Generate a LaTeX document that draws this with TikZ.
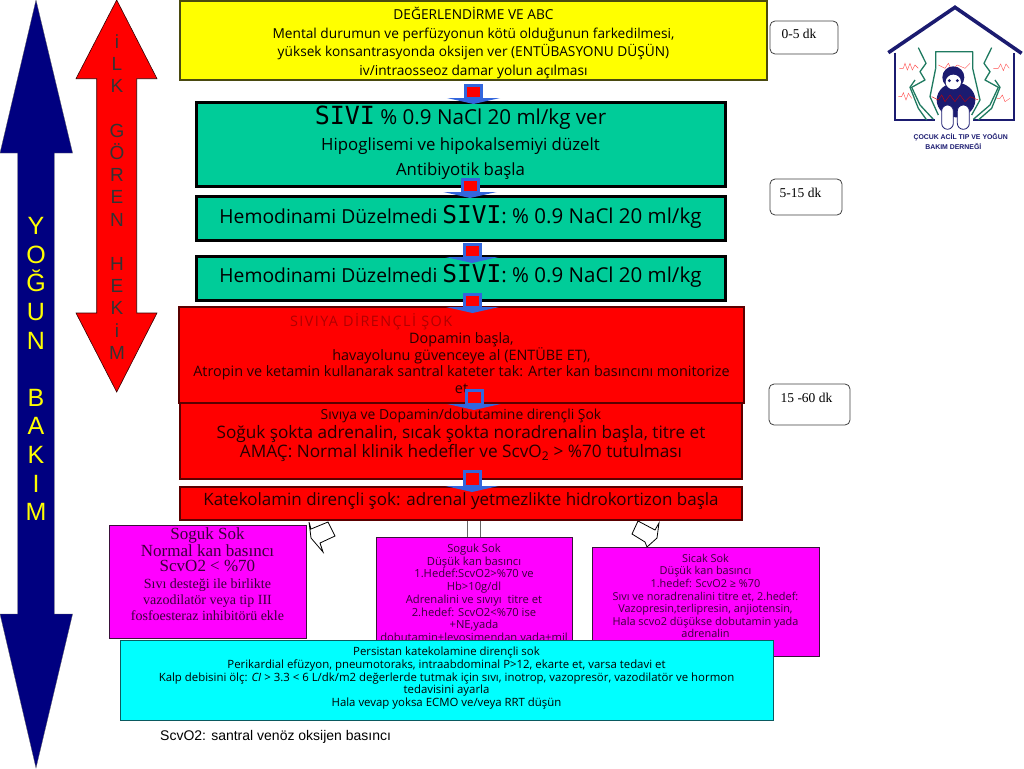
\documentclass[tikz,border=0pt]{standalone}
\usepackage{fontspec}
\setmainfont{Open Sans}
\newfontfamily\timesf{Liberation Serif}
\newfontfamily\arialf{Liberation Sans}
\newfontfamily\sivif{DejaVu Sans Mono}
\usetikzlibrary{arrows.meta}
\definecolor{navyfill}{RGB}{0,0,128}
\definecolor{tealbox}{RGB}{0,204,153}
\definecolor{pureyellow}{RGB}{255,255,0}
\definecolor{purered}{RGB}{255,0,0}
\definecolor{puremag}{RGB}{255,0,255}
\definecolor{purecyan}{RGB}{0,255,255}
\definecolor{olive}{HTML}{4A4A10}
\definecolor{darkred}{HTML}{5A0000}
\definecolor{sivred}{HTML}{B00000}
\definecolor{magtext}{HTML}{3A003A}
\definecolor{arrowblue}{HTML}{3366DD}
\definecolor{logonavy}{HTML}{1B1B70}
\definecolor{logogreen}{HTML}{1F7A60}
\definecolor{edgecyan}{HTML}{0A5A60}
\definecolor{edgemag}{HTML}{3A103A}
\newcommand{\fs}[2]{\fontsize{#1pt}{#2pt}\selectfont}
\newcommand{\flowbox}[8]{%
  \pgfmathsetlengthmacro\bw{(#5-#3)*1pt}%
  \pgfmathsetlengthmacro\bh{(#6-#4)*1pt}%
  \node[#2,anchor=north west,inner sep=0pt,outer sep=0pt] (#1) at (#3,#4)
   {\begin{minipage}[c][\bh][t]{\bw}\centering\vspace*{#7pt}#8\end{minipage}};}
\newcommand{\flow}[6]{%
  \draw[blueshaft] ([xshift=#2pt,yshift=#3pt]#1.south) -- ([xshift=#5pt,yshift=#6pt]#4.north);
  \draw[redcore] ([xshift=#2pt,yshift=#3pt]#1.south) -- ([xshift=#5pt,yshift=#6pt]#4.north);}
\newcommand{\sivitext}{{\sivif\fs{24.5}{24}SIVI}}
\tikzset{
  yellowbox/.style={fill=pureyellow,draw=olive,line width=2.2pt},
  greenbox/.style={fill=tealbox,draw=black,line width=3pt},
  redbox/.style={fill=purered,draw=darkred,line width=1.8pt,text=black!85!red},
  magbox/.style={fill=puremag,draw=edgemag,line width=1pt,text=magtext},
  cyanbox/.style={fill=purecyan,draw=edgecyan,line width=1pt,text=black},
  timebox/.style={fill=white,draw=black!75,line width=.8pt,rounded corners=5pt},
  blueshaft/.style={draw=arrowblue,line width=19pt,-{Triangle[width=53pt,length=6pt]}},
  redcore/.style={draw=purered,line width=13pt,shorten <=3pt,shorten >=7pt},
  hollow/.style={fill=white,draw=black,line width=.8pt,line join=miter},
  logoline/.style={draw=logogreen,line width=1.3pt,line join=round},
  ecg/.style={draw=purered!70!white,line width=.4pt},
}
\begin{document}
\begin{tikzpicture}[x=1pt,y=-1pt]
\useasboundingbox (0,0) rectangle (1024,768);

% side arrows
\path[fill=navyfill,draw=black!60,line width=.3pt] (36,0)--(72.6,153)--(54.3,153)--(54.3,614)--(72.6,614)--(36,768)--(0,614)--(17.7,614)--(17.7,153)--(0,153)--cycle;
\node[text=pureyellow,align=center,inner sep=0pt,font=\arialf\fs{25}{28.6}] (yogun) at (36,369) {Y\\O\\Ğ\\U\\N\\[28.6pt]B\\A\\K\\I\\M};
\path[fill=purered,draw=black!80!red,line width=.6pt] (116.7,0)--(157,78.7)--(136.7,78.7)--(136.7,313)--(157,313)--(116.7,392)--(76,313)--(96.7,313)--(96.7,78.7)--(76,78.7)--cycle;
\node[text=black!80,align=center,inner sep=0pt,font=\arialf\fs{19}{22.2}] (ilk) at (117,197) {i\\L\\K\\[22.2pt]G\\Ö\\R\\E\\N\\[22.2pt]H\\E\\K\\i\\M};

% hollow block arrows
\path[hollow] (311,529)--(328,522)--(335,536)--(320,543)--(323,552)--(311,538)--(309,522)--cycle;
\path[hollow] (638,521)--(655,530)--(659,523)--(657,538)--(647,547)--(645,542)--(632,534)--cycle;

% magenta boxes
\flowbox{sogukn}{magbox}{109}{525}{306}{638}{3}{\timesf\fs{17}{15}Soguk Sok\\Normal kan basıncı\\ScvO2 < \%70\\[1pt]\fs{14}{16}Sıvı desteği ile birlikte\\vazodilatör veya tip III\\fosfoesteraz inhibitörü ekle}
\flowbox{sogukd}{magbox}{376}{537}{572}{660}{7}{\fs{11.2}{12.7}Soguk Sok\\Düşük kan basıncı\\1.Hedef:ScvO2>\%70 ve\\Hb>10g/dl\\Adrenalini ve sıvıyı~ titre et\\2.hedef: ScvO2<\%70 ise\\+NE,yada\\dobutamin+levosimendan yada+mil}
\flowbox{sicak}{magbox}{592}{547}{819}{656}{7}{\fs{10.9}{12.6}Sicak Sok\\Düşük kan basıncı\\1.hedef: ScvO2 ≥ \%70\\Sıvı ve noradrenalini titre et, 2.hedef:\\Vazopresin,terlipresin, anjiotensin,\\Hala scvo2 düşükse dobutamin yada\\adrenalin}
\flowbox{persist}{cyanbox}{120}{640}{773}{720}{7}{\fs{11.4}{12.7}Persistan katekolamine dirençli sok\\Perikardial efüzyon, pneumotoraks, intraabdominal P>12, ekarte et, varsa tedavi et\\Kalp debisini ölç: \textit{CI} > 3.3 < 6 L/dk/m2 değerlerde tutmak için sıvı, inotrop, vazopresör, vazodilatör ve hormon\\tedavisini ayarla\\Hala vevap yoksa ECMO ve/veya RRT düşün}

% main flow boxes
\flowbox{deger}{yellowbox}{180}{1}{767}{80}{6}{\fs{13.7}{18.8}DEĞERLENDİRME VE ABC\\Mental durumun ve perfüzyonun kötü olduğunun farkedilmesi,\\yüksek konsantrasyonda oksijen ver (ENTÜBASYONU DÜŞÜN)\\iv/intraosseoz damar yolun açılması}
\flowbox{sivi}{greenbox}{196}{102}{725}{186}{4}{\fs{20.6}{27}{\sivif\fs{25}{27}SIVI} \% 0.9 NaCl 20 ml/kg ver\\\fs{16.8}{25.5}Hipoglisemi ve hipokalsemiyi düzelt\\Antibiyotik başla}
\flowbox{hemoa}{greenbox}{196}{196}{725}{240}{9}{\fs{19.3}{24}Hemodinami Düzelmedi \sivitext\fs{20.5}{24}: \% 0.9 NaCl 20 ml/kg}
\flowbox{hemob}{greenbox}{196}{256}{725}{300}{8}{\fs{19.3}{24}Hemodinami Düzelmedi \sivitext\fs{20.5}{24}: \% 0.9 NaCl 20 ml/kg}
\flowbox{direncli}{redbox}{179}{307}{744}{403}{7}{\fs{14.4}{16.3}\makebox[\linewidth][l]{\hspace*{111pt}\textcolor{sivred}{\addfontfeature{LetterSpace=10}SIVIYA DİRENÇLİ ŞOK}}\\Dopamin başla,\\havayolunu güvenceye al (ENTÜBE ET),\\Atropin ve ketamin kullanarak santral kateter tak: Arter kan basıncını monitorize\\et}
\flowbox{dopamin}{redbox}{180}{403}{742}{479}{6}{\fs{13.9}{17}Sıvıya ve Dopamin/dobutamine dirençli Şok\\\fs{17.2}{19}Soğuk şokta adrenalin, sıcak şokta noradrenalin başla, titre et\\AMAÇ: Normal klinik hedefler ve ScvO\textsubscript{2} > \%70 tutulması}
\flowbox{kateko}{redbox}{180}{487}{742}{520}{6}{\fs{17}{20}Katekolamin dirençli şok: adrenal yetmezlikte hidrokortizon başla}

\draw[draw=black!60,line width=14.5pt] (sogukd.north |- kateko.south) -- (sogukd.north);
\draw[draw=white,line width=12.5pt] (sogukd.north |- kateko.south) -- (sogukd.north);
\path[draw=darkred,line width=1.8pt] (kateko.south west) -- (kateko.south east);
\path[draw=edgemag,line width=1pt] (sogukd.north west) -- (sogukd.north east);

% connectors
\flow{deger}{0}{-4}{sivi}{13}{-2}
\flow{sivi}{9.5}{8}{hemoa}{9.5}{-2}
\flow{hemoa}{11.5}{-3}{hemob}{11.5}{-7}
\flow{hemob}{12}{7}{direncli}{11}{-6}
\flow{direncli}{12.5}{14}{dopamin}{13}{-7}
\flow{dopamin}{11}{9}{kateko}{11}{-5}

% time boxes
\flowbox{tzero}{timebox}{770}{21}{838}{54}{8}{\timesf\fs{13.5}{14}\hspace*{-10pt}0-5 dk}
\flowbox{tfive}{timebox}{770}{179}{842}{215}{9}{\timesf\fs{13.5}{14}\hspace*{-11pt}5-15 dk}
\flowbox{tfifteen}{timebox}{769}{384}{850}{425}{9}{\timesf\fs{13.5}{14}\hspace*{-6pt}15 -60 dk}

% footnote
\node[anchor=west,inner sep=0pt] (foot) at (160,737) {\arialf\fs{14}{15}ScvO2: santral venöz oksijen basıncı};

% logo
\begin{scope}[xshift=870pt,x=.3333pt,y=-.3333pt]
  \draw[ecg] (88,205)--(100,205)--(105,190)--(112,210)--(120,190)--(127,210)--(135,195)--(145,205);
  \draw[ecg] (85,290)--(95,290)--(100,278)--(108,300)--(115,280)--(125,295);
  \draw[ecg] (370,205)--(385,205)--(392,192)--(400,212)--(408,192)--(418,205);
  \draw[ecg] (380,295)--(390,295)--(397,285)--(405,305)--(420,295);
  \draw[ecg] (205,195)--(225,205)--(235,190)--(245,210)--(262,195)--(285,205)--(300,190);
  \draw[logonavy,line width=3.6pt,line join=miter] (55,158)--(255,22)--(455,160);
  \draw[logonavy,line width=2.6pt] (75,158)--(75,360)--(195,360);
  \draw[logonavy,line width=2.6pt] (432,160)--(432,360)--(310,360);
  \draw[logoline] (145,143)--(168,190)--(150,215)--(165,240)--(125,262)--(150,315)--(190,358);
  \draw[logoline] (135,240)--(120,262)--(145,325)--(170,360);
  \draw[logoline] (365,143)--(342,190)--(360,215)--(345,240)--(385,262)--(360,315)--(310,358);
  \draw[logoline] (375,240)--(390,262)--(365,325)--(325,360);
  \draw[logoline] (197,205)--(197,155)--(308,155)--(308,205)--(330,300)--(305,345);
  \draw[logoline] (197,205)--(180,290)--(205,345);
  \fill[logonavy] (258,300) ellipse (58 and 52);
  \fill[logonavy] (250,232) circle (33);
  \fill[white] (250,246) ellipse (23 and 22);
  \fill[logonavy] (238,242) circle (5) (262,242) circle (5);
  \path[fill=white,draw=logonavy,line width=.8pt,rounded corners=6pt] (215,315)--(250,315)--(250,388)--(215,388)--cycle;
  \path[fill=white,draw=logonavy,line width=.8pt,rounded corners=6pt] (262,315)--(298,315)--(298,388)--(262,388)--cycle;
  \draw[ecg,draw=purered!80!black] (185,290)--(205,300)--(215,285)--(225,305)--(240,285)--(255,305)--(270,285)--(285,305)--(300,290)--(325,300);
  \node[anchor=center,inner sep=0pt,text=logonavy] (logoa) at (272,412) {\arialf\bfseries\fs{6.9}{8}ÇOCUK ACİL TIP VE YOĞUN};
  \node[anchor=center,inner sep=0pt,text=logonavy] (logob) at (250,440) {\arialf\bfseries\fs{6.9}{8}BAKIM DERNEĞİ};
\end{scope}
\end{tikzpicture}
\end{document}
